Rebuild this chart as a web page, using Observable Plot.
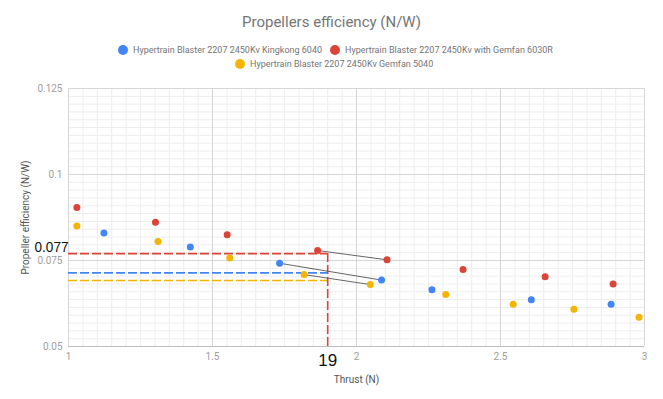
<!DOCTYPE html>
<html>
<head>
<meta charset="utf-8">
<script src="https://cdn.jsdelivr.net/npm/d3@7"></script>
<script src="https://cdn.jsdelivr.net/npm/@observablehq/plot@0.6"></script>
<style>
  body { margin: 0; background: #fff; font-family: Roboto, "Noto Sans", sans-serif; }
  #wrap { position: relative; width: 663px; height: 399px; }
  #title { position: absolute; top: 13px; left: 0; width: 663px; text-align: center; font-size: 15px; color: #757575; }
  .leg { position: absolute; font-size: 9px; color: #757575; white-space: nowrap; line-height: 13px; }
  .leg span.dot { display: inline-block; width: 10px; height: 10px; border-radius: 50%; vertical-align: -2px; margin-right: 5px; }
  #chart { position: absolute; top: 0; left: 0; }
</style>
</head>
<body>
<div id="wrap">
  <div id="chart"></div>
  <div id="title">Propellers efficiency (N/W)</div>
  <div id="legend"></div>
</div>
<script>
// ---- Data ----
const seriesNames = [
  "Hypertrain Blaster 2207 2450Kv Kingkong 6040",
  "Hypertrain Blaster 2207 2450Kv with Gemfan 6030R",
  "Hypertrain Blaster 2207 2450Kv Gemfan 5040"
];
const seriesColors = ["#4285f4", "#db4437", "#f4b400"];

const kingkongThrust = [1.123, 1.423, 1.733, 2.087, 2.262, 2.607, 2.884];
const kingkongEff    = [0.0830, 0.0789, 0.0742, 0.0693, 0.0665, 0.0636, 0.0623];

const gemfan6030Thrust = [1.029, 1.302, 1.551, 1.865, 2.106, 2.370, 2.655, 2.891];
const gemfan6030Eff    = [0.0904, 0.0861, 0.0825, 0.0779, 0.0752, 0.0724, 0.0703, 0.0682];

const gemfan5040Thrust = [1.029, 1.311, 1.560, 1.818, 2.048, 2.310, 2.544, 2.755, 2.981];
const gemfan5040Eff    = [0.0850, 0.0805, 0.0757, 0.0709, 0.0680, 0.0651, 0.0623, 0.0608, 0.0585];

// interpolation annotation
const targetThrust = 1.9;
const targetLabelX = "19";
const annotEff = [0.0714, 0.0770, 0.0692]; // per series at target thrust
const annotLabel = "0.077";
// segments used for interpolation: [seriesIndex, i0, i1]
const interpSegments = [[0, 2, 3], [1, 3, 4], [2, 3, 4]];

const xTicks = [1, 1.5, 2, 2.5, 3];
const yTicks = [0.05, 0.075, 0.1, 0.125];
const xTickLabels = ["1", "1.5", "2", "2.5", "3"];
const yTickLabels = ["0.05", "0.075", "0.1", "0.125"];

// ---- Build tables ----
const thrusts = [kingkongThrust, gemfan6030Thrust, gemfan5040Thrust];
const effs = [kingkongEff, gemfan6030Eff, gemfan5040Eff];
const points = [];
thrusts.forEach((t, s) => t.forEach((x, i) => points.push({series: seriesNames[s], x, y: effs[s][i], s})));
const segs = interpSegments.map(([s, a, b]) => ({
  x1: thrusts[s][a], y1: effs[s][a], x2: thrusts[s][b], y2: effs[s][b]
}));
const annot = annotEff.map((y, s) => ({y, color: seriesColors[s]}));

const minorY = d3.range(34).map(i => 0.05 + i * 0.075 / 33);
const minorX = d3.range(41).map(i => 1 + i * 0.05);

const chart = Plot.plot({
  width: 663,
  height: 399,
  marginTop: 88,
  marginBottom: 53,
  marginLeft: 68,
  marginRight: 19,
  style: {fontFamily: "Roboto, sans-serif", fontSize: "10px", background: "transparent"},
  x: {domain: [1, 3]},
  y: {domain: [0.05, 0.125]},
  marks: [
    Plot.ruleY(minorY, {stroke: "#ededed", strokeWidth: 1}),
    Plot.ruleX(minorX, {stroke: "#ededed", strokeWidth: 1}),
    Plot.ruleY(yTicks, {stroke: "#d6d6d6", strokeWidth: 1}),
    Plot.ruleX(xTicks, {stroke: "#d6d6d6", strokeWidth: 1}),
    Plot.ruleY([0.05], {stroke: "#bdbdbd"}),
    Plot.axisX({ticks: xTicks, tickSize: 0, tickPadding: 6, tickFormat: (d, i) => xTickLabels[i], fill: "#9e9e9e",
      label: "Thrust (N)", labelAnchor: "center", labelArrow: "none", labelOffset: 36}),
    Plot.axisY({ticks: yTicks, tickSize: 0, tickPadding: 6, tickFormat: (d, i) => yTickLabels[i], fill: "#9e9e9e",
      label: "Propeller efficiency (N/W)", labelAnchor: "center", labelArrow: "none", labelOffset: 47}),
    Plot.ruleY(annot, {y: "y", x1: 1, x2: targetThrust, stroke: "color", strokeWidth: 1.6, strokeDasharray: "9,3"}),
    Plot.ruleX([targetThrust], {y1: 0.05, y2: annotEff[1], stroke: "#db4437", strokeWidth: 1.6, strokeDasharray: "9,3"}),
    Plot.link(segs, {x1: "x1", y1: "y1", x2: "x2", y2: "y2", stroke: "#555", strokeWidth: 0.9}),
    Plot.dot(points, {x: "x", y: "y", r: 3.5, fill: d => seriesColors[d.s], stroke: "none"}),
    Plot.text([annotEff[1]], {x: 1, y: d => d, text: () => annotLabel, textAnchor: "end", dx: 0, dy: -6, fontSize: 14, fill: "#111", fontFamily: "'Liberation Sans', Arial, sans-serif", className: "annot-y"}),
    Plot.text([targetThrust], {x: d => d, y: 0.05, text: () => targetLabelX, dy: 14, fontSize: 17, fill: "#111", fontFamily: "'Liberation Sans', Arial, sans-serif"})
  ]
});
chart.querySelectorAll("[aria-label='x-axis label'] text, [aria-label='y-axis label'] text").forEach(t => t.setAttribute("fill", "#555"));
// narrow the 0.077 label as in the reference
chart.querySelectorAll(".annot-y text").forEach(t => { t.setAttribute("textLength", "34"); t.setAttribute("lengthAdjust", "spacingAndGlyphs"); });
document.getElementById("chart").appendChild(chart);

// legend
const legPos = [{left: 118, top: 44}, {left: 330, top: 44}, {left: 235, top: 58}];
const legend = document.getElementById("legend");
seriesNames.forEach((n, i) => {
  const d = document.createElement("div");
  d.className = "leg";
  d.style.left = legPos[i].left + "px";
  d.style.top = legPos[i].top + "px";
  d.innerHTML = `<span class="dot" style="background:${seriesColors[i]}"></span>${n}`;
  legend.appendChild(d);
});
</script>
</body>
</html>
